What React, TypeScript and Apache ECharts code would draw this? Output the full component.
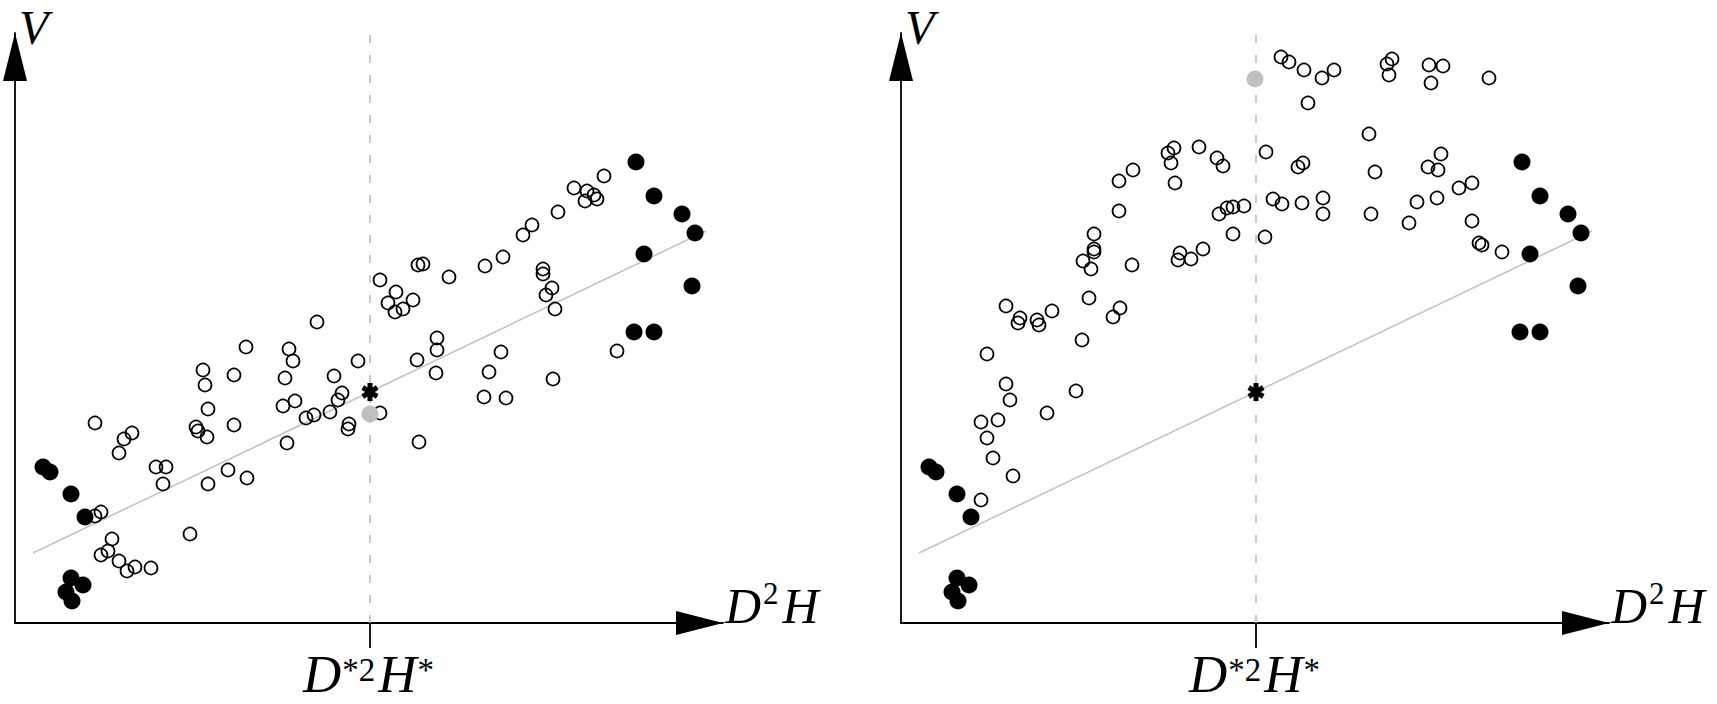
import React, { useEffect, useRef } from 'react';
import * as echarts from 'echarts';

const leftOpen: [number, number][] = [
  [302, 301], [231, 276], [274, 274], [278, 262], [343, 262], [188, 253], [219, 248], [270, 245],
  [319, 247], [190, 238], [327, 230], [323, 223], [193, 214], [268, 217], [280, 222], [315, 211],
  [299, 208], [291, 205], [80, 200], [117, 190], [109, 184], [104, 170], [181, 196], [183, 192],
  [192, 186], [219, 198], [334, 199], [333, 194], [272, 180], [141, 156], [151, 156], [148, 139],
  [193, 139], [213, 153], [232, 145], [86, 111], [80, 107], [175, 89], [97, 84], [93, 72],
  [86, 68], [104, 62], [120, 56], [112, 52], [136, 55], [589, 447], [559, 435], [572, 432],
  [579, 428], [582, 424], [570, 422], [543, 411], [517, 398], [508, 388], [488, 366], [470, 357],
  [403, 358], [408, 359], [434, 346], [365, 343], [381, 331], [398, 323], [373, 320], [388, 314],
  [380, 311], [528, 354], [528, 349], [537, 335], [531, 328], [540, 314], [422, 285], [422, 273],
  [402, 263], [421, 250], [486, 271], [474, 251], [538, 244], [602, 272], [469, 226], [491, 225],
  [365, 210], [404, 181]
];

const rightOpen: [number, number][] = [
  [380, 566], [388, 561], [403, 553], [407, 520], [365, 471], [298, 476], [273, 475], [267, 470],
  [270, 460], [316, 465], [322, 457], [232, 453], [218, 442], [274, 440], [397, 456], [402, 460],
  [218, 412], [318, 409], [326, 415], [332, 416], [343, 417], [372, 424], [381, 419], [401, 420],
  [332, 389], [364, 386], [193, 389], [193, 374], [193, 371], [182, 362], [190, 354], [231, 358],
  [279, 370], [277, 363], [290, 364], [302, 374], [188, 325], [219, 315], [212, 306], [105, 317],
  [119, 305], [117, 300], [136, 303], [138, 298], [151, 312], [421, 545], [433, 553], [486, 559],
  [491, 564], [488, 548], [528, 558], [542, 557], [530, 540], [588, 545], [468, 489], [540, 469],
  [527, 456], [537, 453], [474, 451], [558, 435], [571, 440], [422, 425], [422, 409], [470, 409],
  [516, 421], [536, 425], [508, 400], [571, 402], [578, 380], [581, 378], [601, 371], [181, 283],
  [86, 269], [105, 239], [109, 223], [175, 232], [146, 210], [80, 201], [97, 203], [86, 185],
  [92, 165], [112, 147], [80, 123]
];

// black points, same in both panels
const extremes: [number, number][] = [
  [28, 156], [35, 151], [56, 129], [70, 106], [56, 45], [68, 38], [51, 31], [57, 22],
  [621, 461], [639, 427], [667, 409], [680, 390], [629, 369], [677, 337], [619, 291], [639, 291]
];

const fitLine: [number, number][] = [[18, 70], [691, 392]];
const starPoint: [number, number][] = [[355, 231]];
const leftGray: [number, number][] = [[355, 209]];
const rightGray: [number, number][] = [[354, 544]];
const refX = 355;
const refTop = 588;

const X_MAX = 708;
const Y_MAX = 590;
const TOP = 33;
const LEFTS = [15, 901];

const serif = "'Liberation Serif', 'Times New Roman', serif";
// six-armed asterisk, three bars with the same winding
const STAR_PATH =
  'path://M-0.3,-1L0.3,-1L0.3,1L-0.3,1Z' +
  'M0.716,-0.76L1.016,-0.24L-0.716,0.76L-1.016,0.24Z' +
  'M-1.016,-0.24L-0.716,-0.76L1.016,0.24L0.716,0.76Z';

const App: React.FC = () => {
  const chartRef = useRef<HTMLDivElement>(null);

  useEffect(() => {
    if (!chartRef.current) return;
    const chart = echarts.init(chartRef.current, undefined, { renderer: 'svg' });

    const tickRich = {
      m: { fontFamily: serif, fontStyle: 'italic', fontSize: 53, lineHeight: 42, color: '#000' },
      s: {
        fontFamily: serif, fontSize: 33, lineHeight: 32, verticalAlign: 'top',
        padding: [0, 3, 0, 1], color: '#000'
      }
    };
    const nameRich = {
      m: { fontFamily: serif, fontStyle: 'italic', fontSize: 50, lineHeight: 56, color: '#000' },
      s: {
        fontFamily: serif, fontSize: 31, lineHeight: 50, verticalAlign: 'top',
        padding: [0, 4, 0, 2], color: '#000'
      }
    };

    const panels = [leftOpen, rightOpen];
    const grays = [leftGray, rightGray];

    const series: any[] = [];
    panels.forEach((open, i) => {
      series.push(
        {
          type: 'line',
          xAxisIndex: i,
          yAxisIndex: i,
          data: fitLine,
          symbol: 'none',
          lineStyle: { color: '#c4c4c4', width: 1.6 },
          z: 1,
          markLine: {
            silent: true,
            symbol: 'none',
            label: { show: false },
            lineStyle: { color: '#b8b8b8', width: 1.5, type: [8, 12] },
            data: [[{ coord: [refX, 0] }, { coord: [refX, refTop] }]]
          }
        },
        {
          type: 'scatter',
          xAxisIndex: i,
          yAxisIndex: i,
          data: open,
          symbol: 'circle',
          symbolSize: 13,
          itemStyle: { color: 'transparent', borderColor: '#000', borderWidth: 1.7, opacity: 1 },
          z: 2
        },
        {
          type: 'scatter',
          xAxisIndex: i,
          yAxisIndex: i,
          data: extremes,
          symbol: 'circle',
          symbolSize: 17,
          itemStyle: { color: '#000', opacity: 1 },
          z: 3
        },
        {
          type: 'scatter',
          xAxisIndex: i,
          yAxisIndex: i,
          data: grays[i],
          symbol: 'circle',
          symbolSize: 17,
          itemStyle: { color: '#c0c0c0', opacity: 1 },
          z: 4
        },
        {
          type: 'scatter',
          xAxisIndex: i,
          yAxisIndex: i,
          data: starPoint,
          symbol: STAR_PATH,
          symbolSize: [17, 18],
          itemStyle: { color: '#000', opacity: 1 },
          z: 5
        }
      );
    });

    const axisLine = (len: number) => ({
      show: true,
      onZero: false,
      symbol: ['none', 'triangle'],
      symbolSize: [24, len],
      symbolOffset: [0, -len / 2],
      lineStyle: { color: '#000', width: 1.8 }
    });

    const graphic: any[] = [];
    LEFTS.forEach((left) => {
      graphic.push(
        {
          type: 'text',
          x: left + 4,
          y: 53,
          z: 100,
          style: {
            text: 'V',
            fontFamily: serif,
            fontStyle: 'italic',
            fontSize: 48,
            lineHeight: 52,
            fill: '#000',
            align: 'left',
            verticalAlign: 'bottom'
          }
        },
        {
          type: 'text',
          x: left + X_MAX + 2,
          y: 634,
          z: 100,
          style: {
            text: '{m|D}{s|2}{m|H}',
            rich: nameRich,
            align: 'left',
            verticalAlign: 'bottom'
          }
        }
      );
    });

    chart.setOption({
      animation: false,
      backgroundColor: '#fff',
      grid: LEFTS.map((left) => ({ left, top: TOP, width: X_MAX, height: Y_MAX })),
      xAxis: LEFTS.map((_, i) => ({
        type: 'value',
        gridIndex: i,
        min: 0,
        max: X_MAX,
        axisLine: axisLine(47),
        splitLine: { show: false },
        axisTick: {
          show: true,
          customValues: [refX],
          length: 25,
          inside: false,
          lineStyle: { color: '#000', width: 1.8 }
        },
        axisLabel: {
          show: true,
          customValues: [refX],
          margin: 30,
          formatter: () => '{m|D}{s|*2}{m|H}{s|*}',
          rich: tickRich
        }
      })),
      yAxis: LEFTS.map((_, i) => ({
        type: 'value',
        gridIndex: i,
        min: 0,
        max: Y_MAX,
        axisLine: axisLine(48),
        splitLine: { show: false },
        axisTick: { show: false },
        axisLabel: { show: false }
      })),
      graphic,
      series
    });

    return () => {
      chart.dispose();
    };
  }, []);

  return (
    <div
      ref={chartRef}
      style={{ position: 'fixed', left: 0, top: 0, width: '1717px', height: '704px' }}
    />
  );
};

export default App;
